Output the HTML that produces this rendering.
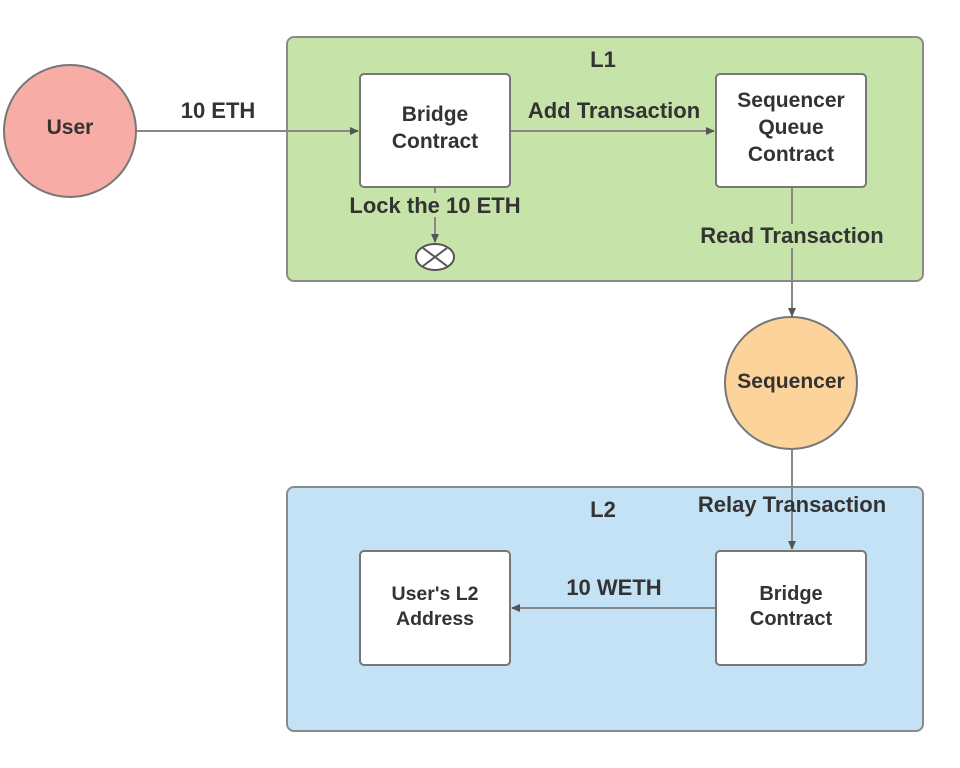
<!DOCTYPE html>
<html><head><meta charset="utf-8"><style>
html,body{margin:0;padding:0;background:#fff;}
svg{display:block;}
text{font-family:"Liberation Sans",sans-serif;font-weight:bold;fill:#333;font-size:22px;text-anchor:middle;}
</style></head><body>
<svg width="960" height="768" viewBox="0 0 960 768" xmlns="http://www.w3.org/2000/svg">
<defs><marker id="a" markerWidth="10" markerHeight="10" refX="8" refY="5" orient="auto" markerUnits="userSpaceOnUse"><path d="M0,1 L9,5 L0,9 z" fill="#555"/></marker></defs>
<rect x="287" y="37" width="636" height="244" rx="7" fill="#c6e4a9" stroke="#8a8a8a" stroke-width="2"/>
<text x="603" y="67">L1</text>
<rect x="287" y="487" width="636" height="244" rx="7" fill="#c3e2f5" stroke="#8a8a8a" stroke-width="2"/>
<text x="603" y="517">L2</text>
<circle cx="70" cy="131" r="66" fill="#f7aca6" stroke="#777" stroke-width="2"/>
<text x="70" y="134" style="font-size:21px">User</text>
<circle cx="791" cy="383" r="66" fill="#fdd39c" stroke="#777" stroke-width="2"/>
<text x="791" y="388" style="font-size:21px">Sequencer</text>
<line x1="137" y1="131" x2="358" y2="131" stroke="#888" stroke-width="2" marker-end="url(#a)"/>
<text x="218" y="118">10 ETH</text>
<line x1="510" y1="131" x2="714" y2="131" stroke="#888" stroke-width="2" marker-end="url(#a)"/>
<text x="614" y="118">Add Transaction</text>
<line x1="435" y1="187" x2="435" y2="242" stroke="#888" stroke-width="2" marker-end="url(#a)"/>
<rect x="345" y="193" width="180" height="24" fill="#c6e4a9"/>
<text x="435" y="213">Lock the 10 ETH</text>
<ellipse cx="435" cy="257" rx="19" ry="13" fill="#fff" stroke="#555" stroke-width="2"/>
<line x1="423" y1="248" x2="447" y2="266" stroke="#555" stroke-width="2"/>
<line x1="447" y1="248" x2="423" y2="266" stroke="#555" stroke-width="2"/>
<line x1="792" y1="187" x2="792" y2="316" stroke="#888" stroke-width="2" marker-end="url(#a)"/>
<rect x="696" y="224" width="192" height="24" fill="#c6e4a9"/>
<text x="792" y="243">Read Transaction</text>
<line x1="792" y1="449" x2="792" y2="549" stroke="#888" stroke-width="2" marker-end="url(#a)"/>
<text x="792" y="512">Relay Transaction</text>
<line x1="716" y1="608" x2="512" y2="608" stroke="#888" stroke-width="2" marker-end="url(#a)"/>
<text x="614" y="595">10 WETH</text>
<rect x="360" y="74" width="150" height="113" rx="4" fill="#fff" stroke="#777" stroke-width="2"/>
<text x="435" y="121" style="font-size:21px">Bridge</text><text x="435" y="148" style="font-size:21px">Contract</text>
<rect x="716" y="74" width="150" height="113" rx="4" fill="#fff" stroke="#777" stroke-width="2"/>
<text x="791" y="107" style="font-size:21px">Sequencer</text><text x="791" y="134" style="font-size:21px">Queue</text><text x="791" y="161" style="font-size:21px">Contract</text>
<rect x="716" y="551" width="150" height="114" rx="4" fill="#fff" stroke="#777" stroke-width="2"/>
<text x="791" y="600" style="font-size:20px">Bridge</text><text x="791" y="625" style="font-size:20px">Contract</text>
<rect x="360" y="551" width="150" height="114" rx="4" fill="#fff" stroke="#777" stroke-width="2"/>
<text x="435" y="600" style="font-size:19.5px">User's L2</text><text x="435" y="625" style="font-size:19.5px">Address</text>
</svg>
</body></html>
